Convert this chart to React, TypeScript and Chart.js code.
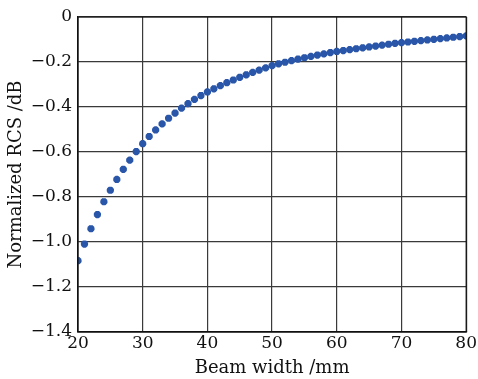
import React, { useEffect, useRef } from "react";
import { Chart, registerables } from "chart.js";

Chart.register(...registerables);

const beamWidth: number[] = [
  20, 21, 22, 23, 24, 25, 26, 27, 28, 29,
  30, 31, 32, 33, 34, 35, 36, 37, 38, 39,
  40, 41, 42, 43, 44, 45, 46, 47, 48, 49,
  50, 51, 52, 53, 54, 55, 56, 57, 58, 59,
  60, 61, 62, 63, 64, 65, 66, 67, 68, 69,
  70, 71, 72, 73, 74, 75, 76, 77, 78, 79, 80,
];

const normalizedRcs: number[] = [
  -1.083, -1.009, -0.941, -0.878, -0.821, -0.770, -0.722, -0.677, -0.636, -0.598,
  -0.563, -0.531, -0.502, -0.475, -0.450, -0.427, -0.405, -0.385, -0.366, -0.349,
  -0.333, -0.319, -0.305, -0.292, -0.280, -0.268, -0.257, -0.246, -0.236, -0.226,
  -0.216, -0.208, -0.201, -0.194, -0.187, -0.181, -0.175, -0.169, -0.164, -0.158,
  -0.153, -0.149, -0.145, -0.141, -0.137, -0.133, -0.129, -0.125, -0.121, -0.117,
  -0.114, -0.111, -0.108, -0.105, -0.102, -0.099, -0.096, -0.093, -0.090, -0.087, -0.084,
];

const xTicks: number[] = [20, 30, 40, 50, 60, 70, 80];
const yTicks: number[] = [0, -0.2, -0.4, -0.6, -0.8, -1.0, -1.2, -1.4];

const FONT = "'DejaVu Serif', 'Liberation Serif', serif";

export default function App() {
  const ref = useRef<HTMLCanvasElement | null>(null);

  useEffect(() => {
    document.body.style.margin = "0";
    const canvas = ref.current;
    if (!canvas) return;
    const points = beamWidth.map((x, i) => ({ x, y: normalizedRcs[i] }));
    const fmtY = (v: number) => {
      if (Math.abs(v) < 1e-9) return "0";
      return (v < 0 ? "\u2212" : "") + Math.abs(v).toFixed(1);
    };
    const chart = new Chart(canvas, {
      type: "scatter",
      data: {
        datasets: [
          {
            data: points,
            pointStyle: "star",
            pointRadius: 3.6,
            pointBorderWidth: 2.6,
            pointBackgroundColor: "#2a56a9",
            pointBorderColor: "#2a56a9",
            showLine: false,
          },
        ],
      },
      options: {
        animation: false,
        responsive: false,
        layout: { padding: { left: 0, right: 10, top: 17, bottom: 0 } },
        plugins: { legend: { display: false }, tooltip: { enabled: false } },
        scales: {
          x: {
            type: "linear",
            min: 20,
            max: 80,
            afterBuildTicks: (s: any) => {
              s.ticks = xTicks.map((v) => ({ value: v }));
            },
            afterFit: (s: any) => {
              s.height = 47;
            },
            grid: { color: "#3a3a3a", lineWidth: 1.2, drawTicks: false },
            border: { display: true, color: "#111", width: 1.2 },
            ticks: {
              color: "#111",
              font: { family: FONT, size: 17 },
              padding: 1,
              callback: (v: any) => String(v),
            },
            title: {
              display: true,
              text: "Beam width /mm",
              color: "#111",
              font: { family: FONT, size: 18 },
              padding: { top: -4, bottom: 0 },
            },
          },
          y: {
            type: "linear",
            min: -1.4,
            max: 0,
            afterBuildTicks: (s: any) => {
              s.ticks = yTicks.map((v) => ({ value: v }));
            },
            afterFit: (s: any) => {
              s.width = 78;
            },
            grid: { color: "#3a3a3a", lineWidth: 1.2, drawTicks: false },
            border: { display: true, color: "#111", width: 1.2 },
            ticks: {
              color: "#111",
              font: { family: FONT, size: 17 },
              padding: 6,
              callback: (v: any) => fmtY(Number(v)),
            },
            title: {
              display: true,
              text: "Normalized RCS /dB",
              color: "#111",
              font: { family: FONT, size: 18 },
              padding: { top: 6, bottom: 0 },
            },
          },
        },
      },
      plugins: [
        {
          id: "frame",
          afterDraw: (c: any) => {
            const a = c.chartArea;
            const ctx = c.ctx;
            ctx.save();
            ctx.strokeStyle = "#111";
            ctx.lineWidth = 1.2;
            ctx.strokeRect(a.left, a.top, a.right - a.left, a.bottom - a.top);
            ctx.restore();
          },
        },
      ],
    });
    return () => chart.destroy();
  }, []);

  return (
    <div style={{ width: 478, height: 379, background: "#fff" }}>
      <canvas ref={ref} width={478} height={379} />
    </div>
  );
}
